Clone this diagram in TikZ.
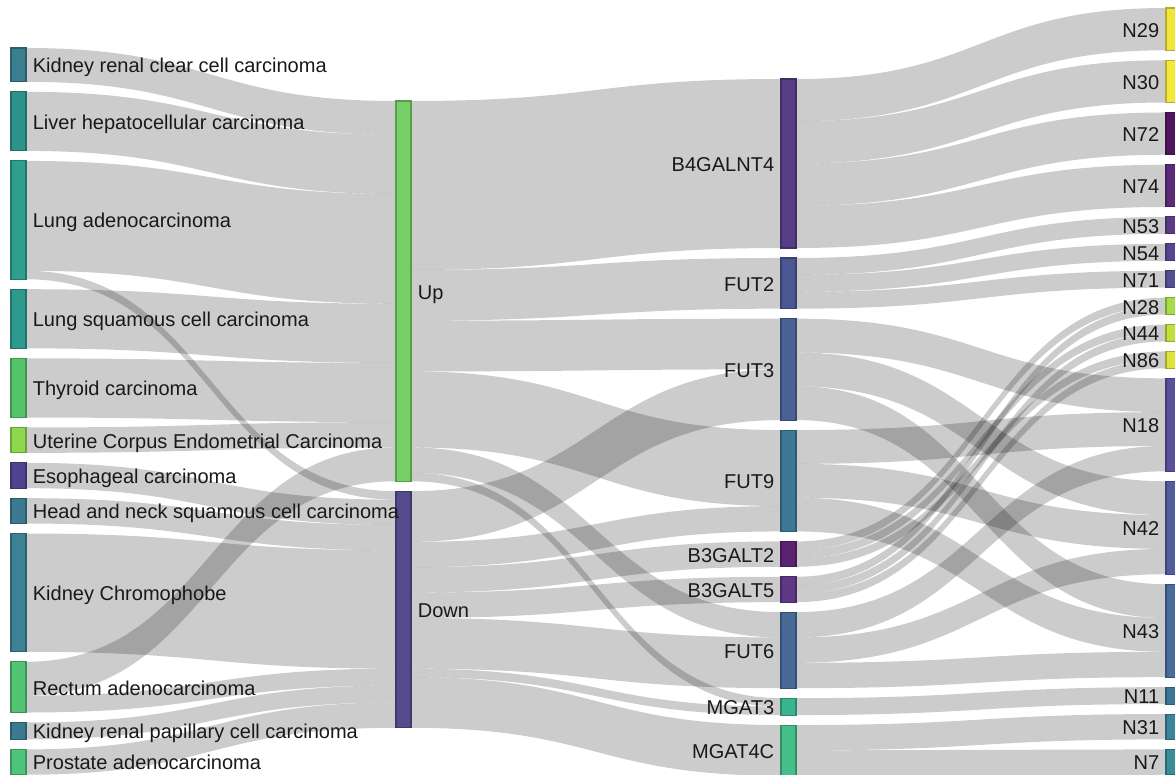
\documentclass[tikz,border=0pt]{standalone}
\usepackage{fontspec}
\setmainfont{Liberation Sans}
\usetikzlibrary{positioning,calc,backgrounds}

% node colours
\definecolor{kircc}{HTML}{3A7F8F}
\definecolor{lihcc}{HTML}{2D918C}
\definecolor{luadc}{HTML}{2E9F8E}
\definecolor{luscc}{HTML}{2E9A8D}
\definecolor{thcac}{HTML}{56C46A}
\definecolor{ucecc}{HTML}{8FD84D}
\definecolor{escac}{HTML}{4F4490}
\definecolor{hnscc}{HTML}{3B7A91}
\definecolor{kichc}{HTML}{3D8294}
\definecolor{readc}{HTML}{52C474}
\definecolor{kirpc}{HTML}{3B7A91}
\definecolor{pradc}{HTML}{4EC57A}
\definecolor{upc}{HTML}{76D066}
\definecolor{downc}{HTML}{554A8E}
\definecolor{b4galnt4c}{HTML}{573D85}
\definecolor{fut2c}{HTML}{4B5793}
\definecolor{fut3c}{HTML}{4A6196}
\definecolor{fut9c}{HTML}{3E7894}
\definecolor{b3galt2c}{HTML}{5A2270}
\definecolor{b3galt5c}{HTML}{5E3885}
\definecolor{fut6c}{HTML}{476A97}
\definecolor{mgat3c}{HTML}{3BB58F}
\definecolor{mgat4cc}{HTML}{45BE87}
\definecolor{n29c}{HTML}{F1E43A}
\definecolor{n30c}{HTML}{F5E83D}
\definecolor{n72c}{HTML}{4D165F}
\definecolor{n74c}{HTML}{5A2A77}
\definecolor{n53c}{HTML}{5D3A87}
\definecolor{n54c}{HTML}{57468F}
\definecolor{n71c}{HTML}{525093}
\definecolor{n28c}{HTML}{A6DC48}
\definecolor{n44c}{HTML}{C0E03B}
\definecolor{n86c}{HTML}{DDE33A}
\definecolor{n18c}{HTML}{58529B}
\definecolor{n42c}{HTML}{505F9C}
\definecolor{n43c}{HTML}{4A6C9B}
\definecolor{n11c}{HTML}{3F7596}
\definecolor{n31c}{HTML}{3C8497}
\definecolor{n7c}{HTML}{3A8D98}

\newcommand\labfont{\fontsize{11.4}{13}\selectfont}
\def\ky{8.45}

% band: source, offset in source, target, offset in target, value
\newcommand\flowband[5]{%
  \path ($(#1.north east)+(0,#2*\ky)$) coordinate (fa)
        ($(#1.north east)+(0,#2*\ky+#5*\ky)$) coordinate (fc)
        ($(#3.north west)+(0,#4*\ky)$) coordinate (fb)
        ($(#3.north west)+(0,#4*\ky+#5*\ky)$) coordinate (fd)
        ($(fa)!0.5!(fb)$) coordinate (fm);
  \fill[flow] (fa) .. controls (fm |- fa) and (fm |- fb) .. (fb) -- (fd)
    .. controls (fm |- fd) and (fm |- fc) .. (fc) -- cycle;
}

\begin{document}
\begin{tikzpicture}[x=0.02cm, y=-0.02cm,
  sbar/.style 2 args={draw=#1!75!black, fill=#1, line width=0.6pt,
    minimum width=0.3cm, minimum height=#2*0.169cm, inner sep=0pt, outer sep=0pt},
  lab/.style={font=\labfont, text=black!90, text height=9pt, text depth=0pt, inner sep=0.13cm},
  flow/.style={fill=black, fill opacity=0.2}]

  \useasboundingbox (0,0) rectangle (1175,774);
  \clip (0,0) rectangle (1175,774);

  % Direction
  \node[sbar={upc}{45}, anchor=north west, label={[lab]right:Up}] (up) at (396,101) {};
  \node[sbar={downc}{28}, below=0.2cm of up, label={[lab]right:Down}] (down) {};

  % Genes
  \node[sbar={b4galnt4c}{20}, anchor=north west, label={[lab]left:B4GALNT4}] (b4galnt4) at (781,79) {};
  \node[sbar={fut2c}{6}, below=0.2cm of b4galnt4, label={[lab]left:FUT2}] (fut2) {};
  \node[sbar={fut3c}{12}, below=0.2cm of fut2, label={[lab]left:FUT3}] (fut3) {};
  \node[sbar={fut9c}{12}, below=0.2cm of fut3, label={[lab]left:FUT9}] (fut9) {};
  \node[sbar={b3galt2c}{3}, below=0.2cm of fut9, label={[lab]left:B3GALT2}] (b3galt2) {};
  \node[sbar={b3galt5c}{3}, below=0.2cm of b3galt2, label={[lab]left:B3GALT5}] (b3galt5) {};
  \node[sbar={fut6c}{9}, below=0.2cm of b3galt5, label={[lab]left:FUT6}] (fut6) {};
  \node[sbar={mgat3c}{2}, below=0.2cm of fut6, label={[lab]left:MGAT3}] (mgat3) {};
  \node[sbar={mgat4cc}{6}, below=0.2cm of mgat3, label={[lab]left:MGAT4C}] (mgat4c) {};

  % Glycans
  \node[sbar={n29c}{5}, anchor=north west, label={[lab]left:N29}] (n29) at (1166,8) {};
  \node[sbar={n30c}{5}, below=0.2cm of n29, label={[lab]left:N30}] (n30) {};
  \node[sbar={n72c}{5}, below=0.2cm of n30, label={[lab]left:N72}] (n72) {};
  \node[sbar={n74c}{5}, below=0.2cm of n72, label={[lab]left:N74}] (n74) {};
  \node[sbar={n53c}{2}, below=0.2cm of n74, label={[lab]left:N53}] (n53) {};
  \node[sbar={n54c}{2}, below=0.2cm of n53, label={[lab]left:N54}] (n54) {};
  \node[sbar={n71c}{2}, below=0.2cm of n54, label={[lab]left:N71}] (n71) {};
  \node[sbar={n28c}{2}, below=0.2cm of n71, label={[lab]left:N28}] (n28) {};
  \node[sbar={n44c}{2}, below=0.2cm of n28, label={[lab]left:N44}] (n44) {};
  \node[sbar={n86c}{2}, below=0.2cm of n44, label={[lab]left:N86}] (n86) {};
  \node[sbar={n18c}{11}, below=0.2cm of n86, label={[lab]left:N18}] (n18) {};
  \node[sbar={n42c}{11}, below=0.2cm of n18, label={[lab]left:N42}] (n42) {};
  \node[sbar={n43c}{11}, below=0.2cm of n42, label={[lab]left:N43}] (n43) {};
  \node[sbar={n11c}{2}, below=0.2cm of n43, label={[lab]left:N11}] (n11) {};
  \node[sbar={n31c}{3}, below=0.2cm of n11, label={[lab]left:N31}] (n31) {};
  \node[sbar={n7c}{3}, below=0.2cm of n31, label={[lab]left:N7}] (n7) {};

  % Cancer types (last, so their labels sit on top)
  \node[sbar={kircc}{4}, anchor=north west, label={[lab]right:Kidney renal clear cell carcinoma}] (kirc) at (11,48) {};
  \node[sbar={lihcc}{7}, below=0.2cm of kirc, label={[lab]right:Liver hepatocellular carcinoma}] (lihc) {};
  \node[sbar={luadc}{14}, below=0.2cm of lihc, label={[lab]right:Lung adenocarcinoma}] (luad) {};
  \node[sbar={luscc}{7}, below=0.2cm of luad, label={[lab]right:Lung squamous cell carcinoma}] (lusc) {};
  \node[sbar={thcac}{7}, below=0.2cm of lusc, label={[lab]right:Thyroid carcinoma}] (thca) {};
  \node[sbar={ucecc}{3}, below=0.2cm of thca, label={[lab]right:Uterine Corpus Endometrial Carcinoma}] (ucec) {};
  \node[sbar={escac}{3}, below=0.2cm of ucec, label={[lab]right:Esophageal carcinoma}] (esca) {};
  \node[sbar={hnscc}{3}, below=0.2cm of esca, label={[lab]right:Head and neck squamous cell carcinoma}] (hnsc) {};
  \node[sbar={kichc}{14}, below=0.2cm of hnsc, label={[lab]right:Kidney Chromophobe}] (kich) {};
  \node[sbar={readc}{6}, below=0.2cm of kich, label={[lab]right:Rectum adenocarcinoma}] (read) {};
  \node[sbar={kirpc}{2}, below=0.2cm of read, label={[lab]right:Kidney renal papillary cell carcinoma}] (kirp) {};
  \node[sbar={pradc}{3}, below=0.2cm of kirp, label={[lab]right:Prostate adenocarcinoma}] (prad) {};

  \begin{scope}[on background layer]
    % cancer -> direction
    \flowband{kirc}{0}{up}{0}{4}
    \flowband{lihc}{0}{up}{4}{7}
    \flowband{luad}{0}{up}{11}{13}
    \flowband{luad}{13}{down}{0}{1}
    \flowband{lusc}{0}{up}{24}{7}
    \flowband{thca}{0}{up}{31}{7}
    \flowband{ucec}{0}{up}{38}{3}
    \flowband{esca}{0}{down}{1}{3}
    \flowband{hnsc}{0}{down}{4}{3}
    \flowband{kich}{0}{down}{7}{14}
    \flowband{read}{0}{up}{41}{4}
    \flowband{read}{4}{down}{21}{2}
    \flowband{kirp}{0}{down}{23}{2}
    \flowband{prad}{0}{down}{25}{3}
    % direction -> gene
    \flowband{up}{0}{b4galnt4}{0}{20}
    \flowband{up}{20}{fut2}{0}{6}
    \flowband{up}{26}{fut3}{0}{6}
    \flowband{up}{32}{fut9}{0}{9}
    \flowband{up}{41}{fut6}{0}{3}
    \flowband{up}{44}{mgat3}{0}{1}
    \flowband{down}{0}{fut3}{6}{6}
    \flowband{down}{6}{fut9}{9}{3}
    \flowband{down}{9}{b3galt2}{0}{3}
    \flowband{down}{12}{b3galt5}{0}{3}
    \flowband{down}{15}{fut6}{3}{6}
    \flowband{down}{21}{mgat3}{1}{1}
    \flowband{down}{22}{mgat4c}{0}{6}
    % gene -> glycan
    \flowband{b4galnt4}{0}{n29}{0}{5}
    \flowband{b4galnt4}{5}{n30}{0}{5}
    \flowband{b4galnt4}{10}{n72}{0}{5}
    \flowband{b4galnt4}{15}{n74}{0}{5}
    \flowband{fut2}{0}{n53}{0}{2}
    \flowband{fut2}{2}{n54}{0}{2}
    \flowband{fut2}{4}{n71}{0}{2}
    \flowband{fut3}{0}{n18}{0}{4}
    \flowband{fut3}{4}{n42}{0}{4}
    \flowband{fut3}{8}{n43}{0}{4}
    \flowband{fut9}{0}{n18}{4}{4}
    \flowband{fut9}{4}{n42}{4}{4}
    \flowband{fut9}{8}{n43}{4}{4}
    \flowband{b3galt2}{0}{n28}{0}{1}
    \flowband{b3galt2}{1}{n44}{0}{1}
    \flowband{b3galt2}{2}{n86}{0}{1}
    \flowband{b3galt5}{0}{n28}{1}{1}
    \flowband{b3galt5}{1}{n44}{1}{1}
    \flowband{b3galt5}{2}{n86}{1}{1}
    \flowband{fut6}{0}{n18}{8}{3}
    \flowband{fut6}{3}{n42}{8}{3}
    \flowband{fut6}{6}{n43}{8}{3}
    \flowband{mgat3}{0}{n11}{0}{2}
    \flowband{mgat4c}{0}{n31}{0}{3}
    \flowband{mgat4c}{3}{n7}{0}{3}
  \end{scope}

\end{tikzpicture}
\end{document}
